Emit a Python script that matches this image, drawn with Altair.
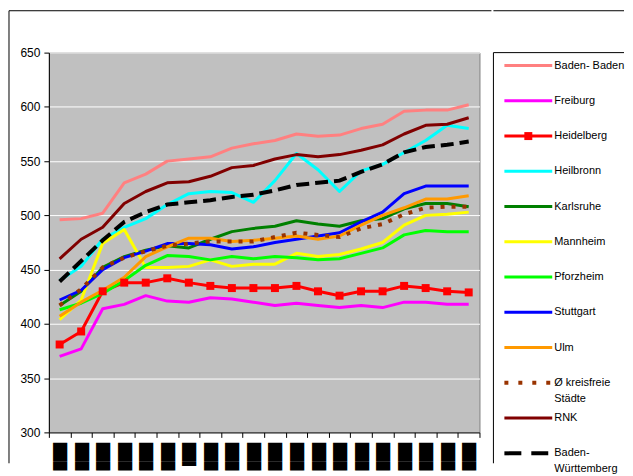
import altair as alt
import pandas as pd

# ---- data ----
series_names = ["Baden- Baden", "Freiburg", "Heidelberg", "Heilbronn", "Karlsruhe",
                "Mannheim", "Pforzheim", "Stuttgart", "Ulm", "Ø kreisfreie Städte",
                "RNK", "Baden-Württemberg"]
legend_labels = ["Baden- Baden", "Freiburg", "Heidelberg", "Heilbronn", "Karlsruhe",
                 "Mannheim", "Pforzheim", "Stuttgart", "Ulm", "Ø kreisfreie\nStädte",
                 "RNK", "Baden-\nWürttemberg"]
series_colors = ["#FF8080", "#FF00FF", "#FF0000", "#00FFFF", "#008000", "#FFFF00",
                 "#00FF00", "#0000FF", "#FF9900", "#993300", "#800000", "#000000"]

x_index = list(range(20))
x_labels = ["███"] * 6 + ["██▌"] + ["███"] * 13

baden_baden = [496, 497, 502, 530, 538, 550, 552, 554, 562, 566, 569, 575, 573, 574, 580, 584, 596, 597, 597, 602]
freiburg = [370, 377, 414, 418, 426, 421, 420, 424, 423, 420, 417, 419, 417, 415, 417, 415, 420, 420, 418, 418]
heidelberg = [381, 393, 430, 438, 438, 442, 438, 435, 433, 433, 433, 435, 430, 426, 430, 430, 435, 433, 430, 429]
heilbronn = [440, 453, 478, 489, 497, 510, 520, 522, 521, 512, 532, 557, 542, 522, 541, 547, 558, 569, 583, 580]
karlsruhe = [417, 430, 452, 462, 468, 472, 470, 478, 485, 488, 490, 495, 492, 490, 495, 497, 506, 511, 511, 508]
mannheim = [404, 422, 474, 487, 452, 452, 453, 459, 453, 455, 455, 465, 462, 464, 469, 475, 491, 500, 501, 503]
pforzheim = [413, 419, 428, 440, 454, 463, 462, 459, 462, 460, 462, 461, 459, 460, 465, 470, 482, 486, 485, 485]
stuttgart = [422, 431, 450, 461, 467, 474, 474, 473, 469, 471, 475, 478, 481, 484, 494, 503, 520, 527, 527, 527]
ulm = [407, 420, 431, 443, 462, 471, 479, 479, 476, 477, 479, 481, 478, 481, 491, 500, 507, 515, 515, 518]
kreisfrei = [417, 432, 452, 461, 467, 472, 474, 476, 476, 476, 480, 484, 482, 480, 488, 492, 501, 507, 508, 508]
rnk = [460, 478, 489, 511, 522, 530, 531, 536, 544, 546, 552, 556, 554, 556, 560, 565, 575, 583, 584, 590]
bw = [439, 458, 477, 494, 503, 510, 512, 514, 517, 519, 523, 528, 530, 532, 540, 547, 558, 563, 565, 568]

all_values = [baden_baden, freiburg, heidelberg, heilbronn, karlsruhe, mannheim,
              pforzheim, stuttgart, ulm, kreisfrei, rnk, bw]

rows = []
for order, (name, vals) in enumerate(zip(series_names, all_values)):
    for i, v in zip(x_index, vals):
        rows.append({"series": name, "order": order, "idx": i, "value": v})
df = pd.DataFrame(rows)

legend_df = pd.DataFrame({"series": series_names, "label": legend_labels})
frame_df = pd.DataFrame({"k": [0]})

# ---- main plot ----
label_expr = "[" + ",".join("'" + s + "'" for s in x_labels) + "][datum.value]"

x_enc = alt.X("idx:O", scale=alt.Scale(type="band", paddingInner=0, paddingOuter=0),
              axis=alt.Axis(title=None, tickBand="extent", tickSize=5, tickColor="black",
                            domainColor="black", labelAngle=90, labelAlign="left",
                            labelBaseline="middle", labelPadding=5, labelExpr=label_expr,
                            labelFont="DejaVu Sans", labelFontSize=12, labelColor="black",
                            grid=False))
y_enc = alt.Y("value:Q", scale=alt.Scale(domain=[300, 650], nice=False, zero=False),
              axis=alt.Axis(title=None, values=list(range(300, 651, 50)), tickSize=5,
                            tickColor="black", domainColor="black", labelColor="black",
                            labelFont="Liberation Sans", labelFontSize=12, labelPadding=4,
                            gridColor="white", gridWidth=1, minExtent=39, maxExtent=39))
color_enc = alt.Color("series:N", scale=alt.Scale(domain=series_names, range=series_colors),
                      legend=None)

base = alt.Chart(df)
solid = base.mark_line(strokeWidth=3, strokeJoin="round").encode(
    x=x_enc, y=y_enc, color=color_enc, detail="series:N"
).transform_filter(
    "datum.series != 'Ø kreisfreie Städte' && datum.series != 'Baden-Württemberg'"
)
dotted = base.mark_line(strokeWidth=4, strokeDash=[4, 7], strokeCap="butt").encode(
    x=x_enc, y=y_enc, color=color_enc
).transform_filter("datum.series == 'Ø kreisfreie Städte'")
squares = base.mark_point(shape="square", filled=True, size=64, opacity=1).encode(
    x=x_enc, y=y_enc, color=color_enc
).transform_filter("datum.series == 'Heidelberg'")
dashed = base.mark_line(strokeWidth=4, strokeDash=[13, 6], strokeCap="butt").encode(
    x=x_enc, y=y_enc, color=color_enc
).transform_filter("datum.series == 'Baden-Württemberg'")

# outer chart frame (top and left edges)
frame_top = alt.Chart(frame_df).mark_rule(color="black", strokeWidth=1, strokeCap="butt").encode(
    x=alt.value(-40), x2=alt.value(444), y=alt.value(-42)
)
frame_left = alt.Chart(frame_df).mark_rule(color="black", strokeWidth=1, strokeCap="butt").encode(
    x=alt.value(-40), y=alt.value(-42), y2=alt.value(412)
)

main = alt.layer(solid, squares, dotted, dashed, frame_top, frame_left).properties(
    width=432, height=381,
    view=alt.ViewBackground(fill="#C0C0C0", stroke="#808080", strokeWidth=1)
)

# ---- legend panel ----
ly = alt.Y("series:N", sort=series_names,
           scale=alt.Scale(type="point", domain=series_names, range=[13, 402], padding=0),
           axis=None)
lbase = alt.Chart(legend_df)
l_solid = lbase.mark_rule(strokeWidth=3).encode(
    x=alt.value(11), x2=alt.value(59), y=ly, color=color_enc
).transform_filter(
    "datum.series != 'Ø kreisfreie Städte' && datum.series != 'Baden-Württemberg'"
)
l_dotted = lbase.mark_rule(strokeWidth=4, strokeDash=[4, 10], strokeCap="butt").encode(
    x=alt.value(11), x2=alt.value(61), y=ly, color=color_enc
).transform_filter("datum.series == 'Ø kreisfreie Städte'")
l_dashed = lbase.mark_rule(strokeWidth=4, strokeDash=[17, 10], strokeCap="butt").encode(
    x=alt.value(11), x2=alt.value(59), y=ly, color=color_enc
).transform_filter("datum.series == 'Baden-Württemberg'")
l_square = lbase.mark_point(shape="square", filled=True, size=64, opacity=1).encode(
    x=alt.value(35), y=ly, color=color_enc
).transform_filter("datum.series == 'Heidelberg'")
l_text = lbase.mark_text(align="left", baseline="top", dy=-6, lineBreak="\n",
                         lineHeight=16, font="Liberation Sans", fontSize=11,
                         color="black").encode(
    x=alt.value(61), y=ly, text="label:N"
)
# legend box edges (left and top; the others lie outside the picture)
l_box_left = alt.Chart(frame_df).mark_rule(color="black", strokeWidth=1, strokeCap="butt").encode(
    x=alt.value(0), y=alt.value(0), y2=alt.value(412)
)
l_box_top = alt.Chart(frame_df).mark_rule(color="black", strokeWidth=1, strokeCap="butt").encode(
    x=alt.value(0), x2=alt.value(131), y=alt.value(0)
)
l_frame_top = alt.Chart(frame_df).mark_rule(color="black", strokeWidth=1, strokeCap="butt").encode(
    x=alt.value(0), x2=alt.value(131), y=alt.value(-42)
)
legend_panel = alt.layer(l_box_left, l_box_top, l_frame_top, l_solid, l_dotted, l_dashed,
                         l_square, l_text).properties(
    width=131, height=412,
    view=alt.ViewBackground(fill="white", stroke="transparent", strokeWidth=0)
)

chart = alt.hconcat(main, legend_panel, spacing=0).resolve_scale(
    x="independent", y="independent"
).properties(
    padding={"left": 0, "top": 1, "right": 0, "bottom": 0},
    background="white"
).configure_view(strokeWidth=1)

chart.save("out.html", embed_options={"renderer": "svg", "actions": False})
